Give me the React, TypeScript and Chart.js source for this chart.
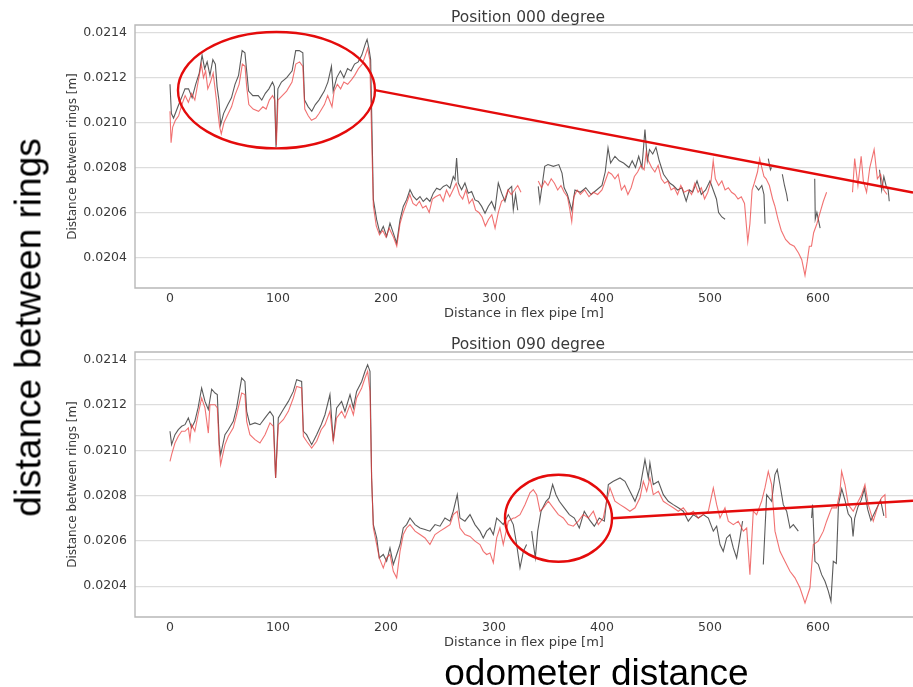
import React, { useEffect, useRef } from "react";
import { Chart, registerables } from "chart.js";

Chart.register(...registerables);

// ---------- axes ----------
const xTickValues = [0, 100, 200, 300, 400, 500, 600];
const yTickValues = [0.0204, 0.0206, 0.0208, 0.021, 0.0212, 0.0214];
const xMin = -32.4;
const xMax = 688;
const yMin = 0.020264;
const yMax = 0.021434;

const chartTitles = ["Position 000 degree", "Position 090 degree"];
const xAxisTitle = "Distance in flex pipe [m]";
const yAxisTitle = "Distance between rings [m]";
const sideLabel = "distance between rings";
const bottomLabel = "odometer distance";

// ---------- data: [distance m, ring distance m] (null = gap) ----------
const p000Black: [number, number | null][] = [
  [0, 0.02117], [1.3, 0.02104], [3.3, 0.02102], [7.3, 0.02107], [10.6, 0.02111], [13.9, 0.02115],
  [17.2, 0.02115], [20.5, 0.02111], [23.8, 0.02117], [27.1, 0.02122], [29.7, 0.0213], [32.1, 0.02124],
  [34.4, 0.02127], [37, 0.02121], [39.7, 0.02128], [42, 0.02126], [43.6, 0.02116], [45.3, 0.0211],
  [46.9, 0.02099], [49.6, 0.02104], [53.6, 0.02108], [56.9, 0.02111], [60.2, 0.02117], [63.5, 0.02121],
  [66.8, 0.02132], [69.4, 0.02131], [70.8, 0.02124], [72.8, 0.02114], [76.7, 0.02112], [81.7, 0.02112],
  [85, 0.0211], [88.3, 0.02113], [91.6, 0.02115], [94.9, 0.02118], [96.6, 0.02116], [98.2, 0.02089],
  [99.9, 0.02115], [103.2, 0.02118], [108.1, 0.0212], [113.1, 0.02123], [116.4, 0.02132], [119.7, 0.02132],
  [123, 0.02131], [124.6, 0.0211], [128, 0.02107], [131.3, 0.02105], [134.6, 0.02108], [137.9, 0.0211],
  [142.9, 0.02114], [146.2, 0.02118], [149.5, 0.02125], [151.1, 0.02114], [154.4, 0.0212], [157.8, 0.02123],
  [161, 0.0212], [164.4, 0.02124], [167.7, 0.02123], [170.9, 0.02126], [174.3, 0.02127], [177.6, 0.0213],
  [180.9, 0.02135], [182.5, 0.02137], [184.2, 0.02133], [185.8, 0.02128], [188.3, 0.020657], [191.4, 0.020567],
  [194.4, 0.020508], [197.5, 0.020538], [200.6, 0.020493], [203.7, 0.020552], [206.8, 0.020508], [209.9, 0.020463],
  [213, 0.020567], [216, 0.020627], [219.1, 0.020657], [222.2, 0.020701], [225.3, 0.020671], [228.4, 0.020656],
  [231.5, 0.020671], [234.5, 0.020649], [237.7, 0.020664], [240.7, 0.020649], [243.8, 0.020686], [246.9, 0.020708],
  [250, 0.020701], [253.1, 0.020716], [256.2, 0.020723], [259.3, 0.020708], [262.3, 0.02076], [263.9, 0.020746],
  [265.4, 0.020842], [266.9, 0.020731], [270, 0.020701], [273.1, 0.020731], [276.2, 0.020686], [279.3, 0.020693],
  [282.4, 0.020656], [285.5, 0.020649], [288.6, 0.020627], [291.7, 0.020597], [294.7, 0.020627], [297.8, 0.020649],
  [300.9, 0.020612], [304, 0.020731], [307.1, 0.020686], [310.2, 0.020649], [313.2, 0.020701], [316.4, 0.020716],
  [317.9, 0.020612], [320, 0.02068], [322, 0.02061], [330, null],
  [341, 0.020716], [342.5, 0.020649], [347, 0.020805], [350, 0.020813], [355, 0.020805], [360, 0.020813],
  [363, 0.020775], [365, 0.02071], [368, 0.02068], [372, 0.02061], [375, 0.0207], [380, 0.02069],
  [385, 0.02071], [390, 0.02068], [395, 0.0207], [400, 0.02072], [403, 0.02078], [405.6, 0.020887],
  [408, 0.02082], [412, 0.02085], [416, 0.02083], [420, 0.02082], [425, 0.0208], [428, 0.02083],
  [431, 0.0208], [434, 0.02085], [437, 0.0208], [439.8, 0.020969], [442, 0.02083], [444, 0.02088],
  [447, 0.02086], [450, 0.02089], [453, 0.02083], [457, 0.02077], [460, 0.02075], [463, 0.02073],
  [466, 0.02072], [470, 0.0207], [474, 0.02071], [478, 0.02065], [481, 0.0207], [484, 0.02069],
  [488, 0.02074], [492, 0.02068], [496, 0.0207], [500, 0.02074], [503, 0.0207], [506, 0.02066],
  [508, 0.0206], [511, 0.02058], [514, 0.02057], [520, null],
  [542, 0.02072], [545, 0.0207], [548, 0.02072], [550, 0.02068], [551, 0.02055], [553, null],
  [554, 0.02084], [556, 0.02079], [557, 0.0208], [560, null],
  [567, 0.02077], [569, 0.02072], [571, 0.02068], [572, 0.02065], [580, null],
  [597, 0.02075], [597.5, 0.02057], [599, 0.0206], [602, 0.02053], [620, null],
  [657, 0.02079], [659, 0.0207], [661, 0.02076], [663, 0.02072], [665, 0.0207], [666, 0.02065],
];

const p000Red: [number, number | null][] = [
  [0, 0.02105], [1, 0.02091], [2.5, 0.02098], [5, 0.02101], [8, 0.02103], [11, 0.02108], [14, 0.02112],
  [17, 0.02109], [20, 0.02113], [23, 0.0211], [26, 0.02118], [29, 0.02126], [31, 0.0212], [33, 0.02123],
  [35, 0.02115], [37.5, 0.02118], [40, 0.02122], [42, 0.02114], [44, 0.02106], [46, 0.02098], [47.5, 0.02095],
  [50, 0.021], [54, 0.02104], [57, 0.02107], [60, 0.02112], [64, 0.02117], [67, 0.02126], [69.5, 0.02125],
  [71, 0.02116], [73, 0.02108], [77, 0.02106], [82, 0.02105], [86, 0.02107], [89, 0.02106], [92, 0.0211],
  [95, 0.02112], [97, 0.0211], [98.5, 0.0209], [100, 0.0211], [104, 0.02112], [108, 0.02114], [113, 0.02118],
  [116.5, 0.02126], [120, 0.02127], [123, 0.02125], [124.8, 0.02106], [128, 0.02103], [131, 0.02101],
  [135, 0.02102], [138, 0.02104], [143, 0.02108], [146, 0.02112], [150, 0.02107], [152, 0.02114],
  [155, 0.02117], [158, 0.02115], [161, 0.02118], [164.5, 0.02117], [168, 0.02119], [171, 0.02121],
  [174.5, 0.02124], [178, 0.02126], [181, 0.0213], [183, 0.02133], [185, 0.02128], [188.3, 0.02063],
  [191, 0.02054], [194, 0.0205], [197, 0.02052], [200, 0.02049], [203, 0.02053], [207, 0.02049], [210, 0.02045],
  [213, 0.02055], [216, 0.0206], [219, 0.02064], [222, 0.02068], [225, 0.02064], [228, 0.02063], [231, 0.02065],
  [234, 0.02062], [237, 0.02063], [240, 0.0206], [243, 0.02066], [246, 0.02067], [250, 0.02068], [253, 0.02065],
  [256, 0.0207], [259, 0.02067], [262, 0.0207], [265, 0.02073], [268, 0.02068], [271, 0.02066], [274, 0.0207],
  [277, 0.02064], [280, 0.02066], [283, 0.02061], [286, 0.0206], [289, 0.02058], [292, 0.02054], [295, 0.02057],
  [298, 0.02059], [301, 0.02053], [304, 0.0206], [307, 0.02065], [310, 0.02066], [313, 0.0207], [316, 0.02068],
  [319, 0.0207], [322, 0.02072], [325, 0.02069], [330, null],
  [341, 0.02074], [344, 0.02071], [347, 0.02074], [350, 0.02072], [353, 0.02075], [356, 0.02073], [359, 0.0207],
  [362, 0.02072], [365, 0.02069], [368, 0.02067], [370, 0.02062], [372, 0.02056], [374, 0.02067], [377, 0.0207],
  [380, 0.02068], [384, 0.0207], [388, 0.02067], [392, 0.02069], [396, 0.02068], [400, 0.0207], [403, 0.02074],
  [406, 0.02078], [409, 0.02077], [412, 0.02075], [415, 0.02077], [418, 0.0207], [421, 0.02072], [424, 0.02068],
  [427, 0.02071], [430, 0.02076], [433, 0.02078], [436, 0.02081], [439, 0.02079], [441, 0.02087], [443, 0.02083],
  [446, 0.0208], [449, 0.02078], [452, 0.02081], [455, 0.02075], [458, 0.02073], [461, 0.02074], [464, 0.0207],
  [467, 0.02071], [470, 0.02068], [473, 0.02072], [476, 0.02069], [480, 0.0207], [483, 0.02068], [486, 0.02073],
  [489, 0.02069], [492, 0.02071], [495, 0.02066], [498, 0.02069], [501, 0.02074], [503, 0.02083], [505, 0.02075],
  [508, 0.02072], [511, 0.02074], [514, 0.0207], [517, 0.02071], [520, 0.02069], [523, 0.02068], [526, 0.02066],
  [529, 0.02067], [532, 0.02064], [535, 0.02047], [537, 0.02055], [539, 0.0207], [541, 0.02073], [544, 0.02078],
  [546, 0.02084], [548, 0.0208], [550, 0.02076], [552, 0.02075], [555, 0.02072], [558, 0.02066], [560, 0.02063],
  [563, 0.02057], [566, 0.02052], [570, 0.02048], [574, 0.02046], [578, 0.02045], [582, 0.02042], [585, 0.02039],
  [588, 0.02032], [590, 0.02038], [592, 0.02045], [594, 0.02045], [596, 0.02051], [599, 0.02055], [602, 0.0206],
  [605, 0.02065], [608, 0.02069], [615, null],
  [632, 0.02069], [634, 0.02084], [637, 0.02072], [640, 0.02085], [642, 0.02074], [645, 0.02069], [648, 0.0208],
  [652, 0.02088], [655, 0.02075], [658, 0.02077], [661, 0.0207], [664, 0.02068],
];

const p090Black: [number, number | null][] = [
  [0, 0.021084], [1.5, 0.021025], [4.6, 0.021069], [7.7, 0.021091], [10.8, 0.021106], [13.9, 0.021113],
  [17, 0.021143], [20, 0.021099], [23, 0.021128], [26, 0.021187], [29.3, 0.021275], [32.4, 0.021216],
  [35.5, 0.02118], [38.6, 0.02127], [41.7, 0.021253], [43.8, 0.021246], [45.7, 0.021025], [46.9, 0.020981],
  [50.9, 0.021069], [54, 0.021091], [58.6, 0.021128], [61.7, 0.021187], [66.4, 0.021319], [69.4, 0.021304],
  [71, 0.021172], [74, 0.021113], [78.7, 0.021121], [83.3, 0.021113], [88, 0.021143], [92.6, 0.021172],
  [95.7, 0.02115], [97.8, 0.020878], [100.3, 0.021143], [104.9, 0.02118], [109.6, 0.021216], [114.2, 0.02126],
  [117.3, 0.021312], [121.9, 0.021304], [123.5, 0.021084], [126.5, 0.021069], [131.2, 0.021025], [135.8, 0.021069],
  [140, 0.021113], [143.5, 0.021157], [148.1, 0.021246], [151.2, 0.02104], [154.3, 0.021187], [158.9, 0.021216],
  [162, 0.021172], [166.7, 0.021246], [169.8, 0.021187], [172.8, 0.02126], [177.5, 0.021304], [180.6, 0.021349],
  [183, 0.021378], [185.2, 0.021349], [186.7, 0.020878], [188.3, 0.020672], [191.4, 0.020613], [193.8, 0.020525],
  [197.5, 0.02054], [200.6, 0.02051], [203.7, 0.020569], [206.8, 0.020496], [209.9, 0.02054], [213, 0.020584],
  [216, 0.020657], [219.1, 0.020672], [222.2, 0.020701], [226.9, 0.020672], [231.5, 0.020657], [236.1, 0.02065],
  [240.7, 0.020643], [245.4, 0.020672], [250, 0.020665], [254.6, 0.020701], [259.3, 0.020687], [262.3, 0.020731],
  [266, 0.020804], [268.5, 0.020701], [273.1, 0.020687], [277.8, 0.020716], [282.4, 0.020672], [287, 0.020643],
  [290.1, 0.020613], [293.2, 0.020643], [296.3, 0.020657], [299.4, 0.020628], [302.5, 0.020701], [305.5, 0.020687],
  [308.6, 0.020672], [313.3, 0.020716], [317.9, 0.020672], [321, 0.020584], [324.1, 0.020481], [327.2, 0.020554],
  [330.2, 0.020584], [332, null],
  [334.9, 0.020643], [336.5, 0.020584], [338.3, 0.020525], [340.5, 0.020643], [343.6, 0.020731], [348.2, 0.020775],
  [351.2, 0.02079], [354.3, 0.020849], [357.4, 0.020804], [360.5, 0.020775], [365.1, 0.020746], [369.8, 0.020716],
  [374.4, 0.020701], [379, 0.020657], [383.6, 0.020731], [388.3, 0.020694], [392.9, 0.020665], [397.5, 0.020701],
  [402.2, 0.020687], [405.9, 0.020849], [410.5, 0.020863], [416.7, 0.020878], [421.3, 0.020863], [425.9, 0.020819],
  [430.6, 0.020775], [435.2, 0.020834], [439.8, 0.020959], [442.9, 0.020878], [444.4, 0.020944], [447.5, 0.020849],
  [452.2, 0.020863], [456.8, 0.020804], [461.4, 0.020775], [466, 0.02076], [470.7, 0.020746], [475.3, 0.020731],
  [479.9, 0.020687], [484.6, 0.020716], [489.2, 0.020701], [493.8, 0.020716], [498.5, 0.020701], [503.1, 0.020643],
  [506.2, 0.020665], [509.3, 0.020584], [512.3, 0.020554], [515.4, 0.020613], [518.5, 0.020628], [521.6, 0.020569],
  [524.7, 0.020525], [527.8, 0.020613], [530.2, 0.020687], [535, null],
  [549.4, 0.020496], [552.5, 0.020804], [557.1, 0.020775], [560.2, 0.020893], [562.3, 0.020915], [564.8, 0.020849],
  [567.9, 0.02076], [571, 0.020731], [574.1, 0.020657], [577.2, 0.020672], [581.8, 0.020643], [588, null],
  [594.1, 0.020701], [595, 0.02076], [597.2, 0.02051], [600.3, 0.020496], [603.4, 0.020451], [606.5, 0.020422],
  [609.6, 0.020378], [612, 0.020334], [614.2, 0.02051], [617, 0.0205], [619, 0.02076], [622, 0.02083],
  [625, 0.02078], [628, 0.02072], [631, 0.0207], [632.5, 0.02062], [634, 0.0207], [637, 0.02075],
  [640, 0.02078], [643, 0.02083], [646, 0.02074], [649, 0.02069], [652, 0.02072], [655, 0.02075],
  [658, 0.02078], [661, 0.02071],
];

const p090Red: [number, number | null][] = [
  [0, 0.020951], [1.5, 0.020981], [4.6, 0.021032], [7.7, 0.021062], [10.8, 0.021084], [13.9, 0.021084],
  [17, 0.021099], [18.5, 0.021047], [20, 0.021113], [23, 0.021084], [26, 0.021157], [29.3, 0.021231],
  [32.4, 0.021187], [35.5, 0.021076], [37, 0.021201], [38.6, 0.021201], [41.7, 0.021201], [43.8, 0.021187],
  [45.7, 0.021], [46.9, 0.020937], [50.9, 0.021025], [54, 0.021062], [58.6, 0.021099], [61.7, 0.021157],
  [66.4, 0.021253], [69.4, 0.021246], [71, 0.021128], [74, 0.021069], [78.7, 0.021047], [83.3, 0.021032],
  [88, 0.021069], [92.6, 0.021121], [95.7, 0.021106], [97.8, 0.020878], [100.3, 0.021113], [104.9, 0.021135],
  [109.6, 0.021172], [114.2, 0.021231], [117.3, 0.021282], [121.9, 0.021275], [123.5, 0.021062], [126.5, 0.02104],
  [131.2, 0.02101], [135.8, 0.02104], [140, 0.021091], [143.5, 0.021113], [148.1, 0.021172], [151.2, 0.02104],
  [154.3, 0.021143], [158.9, 0.021172], [162, 0.021143], [166.7, 0.021201], [169.8, 0.021157], [172.8, 0.021231],
  [177.5, 0.021275], [180.6, 0.021319], [183, 0.021349], [185.2, 0.02126], [186.7, 0.020878], [188.3, 0.020657],
  [191.4, 0.020584], [193.8, 0.020525], [197.5, 0.020481], [200.6, 0.020525], [203.7, 0.02054], [206.8, 0.020466],
  [209.9, 0.020437], [213, 0.020554], [216, 0.020628], [219.1, 0.020657], [222.2, 0.020672], [226.9, 0.020643],
  [231.5, 0.020628], [236.1, 0.020613], [240.7, 0.020584], [245.4, 0.020628], [250, 0.020643], [254.6, 0.020657],
  [259.3, 0.020672], [262.3, 0.020716], [266, 0.020731], [268.5, 0.020657], [273.1, 0.020628], [277.8, 0.02062],
  [282.4, 0.020599], [287, 0.020584], [290.1, 0.020554], [293.2, 0.02054], [296.3, 0.020547], [299.4, 0.020503],
  [302.5, 0.020613], [305.5, 0.020657], [308.6, 0.020584], [313.3, 0.020687], [317.9, 0.020701], [319.4, 0.020701],
  [324.1, 0.020716], [328.7, 0.02076], [333.3, 0.020812], [336.4, 0.020826], [339.5, 0.020804], [342.6, 0.020731],
  [345.7, 0.020746], [350.3, 0.020775], [354.9, 0.020746], [359.6, 0.020716], [364.2, 0.020701], [368.8, 0.020672],
  [373.5, 0.020665], [378.1, 0.020687], [382.7, 0.020716], [387.3, 0.020701], [392, 0.020731], [396.6, 0.020672],
  [401.2, 0.020701], [404.3, 0.020775], [407.4, 0.020834], [412, 0.020775], [416.7, 0.02076], [421.3, 0.020746],
  [425.9, 0.020731], [430.6, 0.020746], [435.2, 0.02079], [438.3, 0.020863], [441.4, 0.020819], [444.4, 0.020878],
  [447.5, 0.020804], [452.2, 0.020819], [456.8, 0.020775], [461.4, 0.02076], [466, 0.020746], [470.7, 0.020731],
  [475.3, 0.020746], [479.9, 0.020716], [484.6, 0.020731], [489.2, 0.020701], [493.8, 0.020716], [498.5, 0.020731],
  [503.1, 0.020834], [506.2, 0.02076], [509.3, 0.020701], [513.9, 0.020746], [517, 0.020687], [521.6, 0.020672],
  [526.2, 0.020687], [530.9, 0.020643], [534, 0.020657], [537, 0.020451], [540.1, 0.020731], [543.2, 0.020716],
  [547.8, 0.020775], [550.9, 0.020834], [554, 0.020907], [557.1, 0.020849], [560.2, 0.020643], [564.8, 0.020554],
  [569.4, 0.02051], [574.1, 0.020466], [578.7, 0.020437], [583.3, 0.020393], [588, 0.020326], [592.6, 0.020393],
  [595.7, 0.020584], [600.3, 0.020599], [605, 0.020643], [608, 0.020687], [612.7, 0.020746], [617.3, 0.020746],
  [620.4, 0.020819], [621.9, 0.020907], [625, 0.020849], [628.1, 0.02076], [632.7, 0.020731], [637.3, 0.020775],
  [640.4, 0.020804], [643.5, 0.020849], [646.6, 0.02076], [651.2, 0.020687], [655.9, 0.02076], [658.9, 0.02079],
  [662, 0.020804], [663, 0.020701],
];

// annotation shapes in data units: ellipse box and connector line
const p000Callout = { ex1: 7.4, ex2: 189.8, ey1: 0.021403, ey2: 0.020885, lx1: 189.8, ly1: 0.021144, lx2: 688, ly2: 0.020689 };
const p090Callout = { ex1: 310.2, ex2: 409.3, ey1: 0.020892, ey2: 0.020508, lx1: 409.3, ly1: 0.0207, lx2: 688, ly2: 0.020777 };

const FONT = "'DejaVu Sans', sans-serif";
const TEXT_COLOR = "#3a3a3a";

const framePlugin = {
  id: "frame",
  afterDatasetsDraw(chart: any) {
    const { ctx, chartArea } = chart;
    ctx.save();
    ctx.strokeStyle = "#b8b8b8";
    ctx.lineWidth = 1.4;
    ctx.beginPath();
    ctx.moveTo(chartArea.right + 5, chartArea.top);
    ctx.lineTo(chartArea.left, chartArea.top);
    ctx.lineTo(chartArea.left, chartArea.bottom);
    ctx.lineTo(chartArea.right + 5, chartArea.bottom);
    ctx.stroke();
    ctx.restore();
  },
};

const calloutPlugin = {
  id: "callout",
  afterDraw(chart: any, _args: any, opts: any) {
    if (!opts || opts.ex1 === undefined) return;
    const { ctx } = chart;
    const xs = chart.scales.x;
    const ys = chart.scales.y;
    const x1 = xs.getPixelForValue(opts.ex1);
    const x2 = xs.getPixelForValue(opts.ex2);
    const y1 = ys.getPixelForValue(opts.ey1);
    const y2 = ys.getPixelForValue(opts.ey2);
    ctx.save();
    ctx.strokeStyle = "#e40b0b";
    ctx.lineWidth = 2.4;
    ctx.beginPath();
    ctx.ellipse((x1 + x2) / 2, (y1 + y2) / 2, Math.abs(x2 - x1) / 2, Math.abs(y2 - y1) / 2, 0, 0, Math.PI * 2);
    ctx.stroke();
    ctx.beginPath();
    ctx.moveTo(xs.getPixelForValue(opts.lx1), ys.getPixelForValue(opts.ly1));
    ctx.lineTo(xs.getPixelForValue(opts.lx2), ys.getPixelForValue(opts.ly2));
    ctx.stroke();
    ctx.restore();
  },
};

function toPoints(arr: [number, number | null][]) {
  return arr.map(([x, y]) => ({ x, y }));
}

function makeConfig(black: [number, number | null][], red: [number, number | null][], callout: any, tickPad: number, titlePad: number): any {
  return {
    type: "line",
    data: {
      datasets: [
        {
          data: toPoints(red),
          borderColor: "rgba(236, 60, 60, 0.72)",
          borderWidth: 1.1,
          pointRadius: 0,
          tension: 0,
          spanGaps: false,
        },
        {
          data: toPoints(black),
          borderColor: "rgba(45, 45, 45, 0.78)",
          borderWidth: 1.1,
          pointRadius: 0,
          tension: 0,
          spanGaps: false,
        },
      ],
    },
    options: {
      responsive: false,
      animation: false,
      events: [],
      layout: { padding: { top: 25, left: 0, right: 0, bottom: 0 } },
      plugins: {
        legend: { display: false },
        tooltip: { enabled: false },
        title: { display: false },
        callout,
      },
      scales: {
        x: {
          type: "linear",
          min: xMin,
          max: xMax,
          afterBuildTicks: (axis: any) => {
            axis.ticks = xTickValues.map((v) => ({ value: v }));
          },
          afterFit: (axis: any) => {
            axis.height = 37;
            axis.paddingLeft = 0;
            axis.paddingRight = 0;
          },
          grid: { display: false, drawTicks: false },
          border: { display: false },
          ticks: {
            padding: tickPad,
            autoSkip: false,
            maxRotation: 0,
            color: TEXT_COLOR,
            font: { family: FONT, size: 12.5 },
            callback: (v: any) => String(v),
          },
          title: {
            display: true,
            text: xAxisTitle,
            color: TEXT_COLOR,
            font: { family: FONT, size: 13 },
            padding: { top: 0, bottom: titlePad },
          },
        },
        y: {
          type: "linear",
          min: yMin,
          max: yMax,
          afterBuildTicks: (axis: any) => {
            axis.ticks = yTickValues.map((v) => ({ value: v }));
          },
          afterFit: (axis: any) => {
            axis.width = 135;
            axis.paddingTop = 0;
            axis.paddingBottom = 0;
          },
          grid: { color: "#dddddd", lineWidth: 1.2, drawTicks: false },
          border: { display: false },
          ticks: {
            padding: 8,
            color: TEXT_COLOR,
            font: { family: FONT, size: 12.5 },
            callback: (v: any) => Number(v).toFixed(4),
          },
          title: {
            display: true,
            text: yAxisTitle,
            color: TEXT_COLOR,
            font: { family: FONT, size: 12 },
            padding: { top: 66, bottom: 0 },
          },
        },
      },
    },
    plugins: [framePlugin, calloutPlugin],
  };
}

export default function App() {
  const topRef = useRef<HTMLCanvasElement>(null);
  const botRef = useRef<HTMLCanvasElement>(null);

  useEffect(() => {
    const c1 = new Chart(topRef.current as HTMLCanvasElement, makeConfig(p000Black, p000Red, p000Callout, 3, 3.7));
    const c2 = new Chart(botRef.current as HTMLCanvasElement, makeConfig(p090Black, p090Red, p090Callout, 3.5, 3.2));
    return () => {
      c1.destroy();
      c2.destroy();
    };
  }, []);

  const titleStyle: React.CSSProperties = {
    position: "absolute",
    left: 328,
    width: 400,
    textAlign: "center",
    fontFamily: FONT,
    fontSize: 15.5,
    lineHeight: "18px",
    color: TEXT_COLOR,
    whiteSpace: "nowrap",
  };

  return (
    <div style={{ position: "absolute", left: 0, top: 0, width: 913, height: 687, overflow: "hidden", background: "#ffffff" }}>
      <canvas ref={topRef} width={913} height={325} style={{ position: "absolute", left: 0, top: 0 }} />
      <canvas ref={botRef} width={913} height={327} style={{ position: "absolute", left: 0, top: 327 }} />
      <div style={{ ...titleStyle, top: 7.6 }}>{chartTitles[0]}</div>
      <div style={{ ...titleStyle, top: 334.6 }}>{chartTitles[1]}</div>
      <div
        style={{
          position: "absolute",
          left: 28.3 - 220,
          top: 327.5 - 18.5,
          width: 440,
          height: 37,
          lineHeight: "37px",
          textAlign: "center",
          fontFamily: "'Liberation Sans', Arial, sans-serif",
          fontSize: 37,
          color: "#000",
          transform: "rotate(-90deg)",
          transformOrigin: "50% 50%",
          whiteSpace: "nowrap",
        }}
      >
        {sideLabel}
      </div>
      <div
        style={{
          position: "absolute",
          left: 596.5 - 200,
          top: 653.7,
          width: 400,
          height: 37,
          lineHeight: "37px",
          textAlign: "center",
          fontFamily: "'Liberation Sans', Arial, sans-serif",
          fontSize: 37,
          color: "#000",
          whiteSpace: "nowrap",
        }}
      >
        {bottomLabel}
      </div>
    </div>
  );
}
